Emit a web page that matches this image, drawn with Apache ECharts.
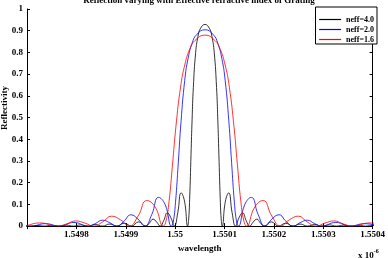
<!DOCTYPE html>
<html>
<head>
<meta charset="utf-8">
<script src="https://cdn.jsdelivr.net/npm/echarts@6.0.0/dist/echarts.min.js"></script>
<style>
  html, body { margin: 0; padding: 0; background: #fff; }
  #chart { width: 388px; height: 258px; }
</style>
</head>
<body>
<div id="chart"></div>
<script>
// wavelength in units of 1e-6 m, reflectivity 0..1
const wlNeff40 = [
  1.5496908, 1.5497056, 1.5497204, 1.549735, 1.5497498, 1.5497644, 1.5497792, 1.549794,
  1.5498086, 1.5498234, 1.549838, 1.5498528, 1.5498676, 1.5498822, 1.5498968, 1.5499116,
  1.5499262, 1.5499408, 1.549948, 1.5499554, 1.5499626, 1.5499698, 1.549977, 1.5499842,
  1.5499914, 1.5499984, 1.5500054, 1.5500122, 1.550019, 1.5500254, 1.5500275, 1.5500294,
  1.5500322, 1.5500344, 1.5500369, 1.5500416, 1.5500463, 1.550051, 1.5500604,
  1.5500698, 1.5500745, 1.5500792, 1.5500839, 1.5500864, 1.5500886, 1.5500914, 1.5500933,
  1.5500954, 1.5501018, 1.5501086, 1.5501154, 1.5501224, 1.5501294, 1.5501366, 1.5501438,
  1.550151, 1.5501582, 1.5501654, 1.5501728, 1.55018, 1.5501946, 1.5502092, 1.550224,
  1.5502386, 1.5502532, 1.550268, 1.5502828, 1.5502974, 1.5503122, 1.5503268, 1.5503416,
  1.5503564, 1.550371, 1.5503858, 1.5504004, 1.5504152
];
const rNeff40 = [
  0.0026, 0, 0.0031, 0, 0.0037, 0, 0.0045, 0,
  0.0056, 0, 0.0072, 0, 0.0095, 0, 0.0132, 0,
  0.0196, 0, 0.0142, 0.032, 0.0188, 0, 0.0261, 0.061,
  0.0385, 0, 0.062, 0.153, 0.1148, 0, 0.033, 0.124,
  0.331, 0.493, 0.639, 0.80, 0.874, 0.909, 0.929,
  0.909, 0.874, 0.80, 0.639, 0.493, 0.331, 0.124, 0.033,
  0, 0.1148, 0.153, 0.062, 0, 0.0385, 0.061, 0.0261,
  0, 0.0188, 0.032, 0.0142, 0, 0.0196, 0, 0.0132,
  0, 0.0095, 0, 0.0072, 0, 0.0056, 0, 0.0045,
  0, 0.0037, 0, 0.0031, 0
];

const wlNeff20 = [
  1.549679, 1.5497082, 1.5497372, 1.5497662, 1.5497952, 1.5498242, 1.5498386, 1.549853,
  1.5498674, 1.5498818, 1.5498962, 1.5499104, 1.5499246, 1.5499386, 1.5499526, 1.5499664,
  1.5499798, 1.5499926, 1.5499962, 1.5500008, 1.5500064, 1.550012, 1.5500194, 1.5500262,
  1.5500344, 1.5500433, 1.5500604,
  1.5500775, 1.5500864, 1.5500946, 1.5501014, 1.5501088, 1.5501144, 1.55012, 1.5501246,
  1.5501282, 1.550141, 1.5501544, 1.5501682, 1.5501822, 1.5501962, 1.5502104, 1.5502246,
  1.550239, 1.5502534, 1.5502678, 1.5502822, 1.5502966, 1.5503256, 1.5503546, 1.5503836,
  1.5504126
];
const rNeff20 = [
  0.0081, 0, 0.0112, 0, 0.0167, 0, 0.012, 0.0272,
  0.016, 0, 0.0222, 0.052, 0.0328, 0, 0.053, 0.1323,
  0.0989, 0, 0.019, 0.110, 0.292, 0.483, 0.670, 0.772,
  0.842, 0.881, 0.9044,
  0.881, 0.842, 0.772, 0.670, 0.483, 0.292, 0.110, 0.019,
  0, 0.0989, 0.1323, 0.053, 0, 0.0328, 0.052, 0.0222,
  0, 0.016, 0.0272, 0.012, 0, 0.0167, 0, 0.0112,
  0
];

const wlNeff16 = [
  1.5496522, 1.549689, 1.5497258, 1.5497624, 1.5497806, 1.5497988, 1.5498172, 1.5498352,
  1.5498534, 1.5498714, 1.5498894, 1.5499072, 1.549925, 1.5499426, 1.5499596, 1.5499762,
  1.5499816, 1.5499876, 1.5499946, 1.5500016, 1.550011, 1.55002, 1.5500298, 1.5500402,
  1.5500604,
  1.5500806, 1.550091, 1.5501008, 1.5501098, 1.5501192, 1.5501262, 1.5501332, 1.5501392,
  1.5501446, 1.5501612, 1.5501782, 1.5501958, 1.5502136, 1.5502314, 1.5502494, 1.5502674,
  1.5502856, 1.5503036, 1.550322, 1.5503402, 1.5503584, 1.550395, 1.5504318
];
const rNeff16 = [
  0.0098, 0, 0.0146, 0, 0.0105, 0.0239, 0.014, 0,
  0.0194, 0.0458, 0.0287, 0, 0.0466, 0.1176, 0.0875, 0,
  0.024, 0.112, 0.281, 0.458, 0.640, 0.747, 0.816, 0.855,
  0.8797,
  0.855, 0.816, 0.747, 0.640, 0.458, 0.281, 0.112, 0.024,
  0, 0.0875, 0.1176, 0.0466, 0, 0.0287, 0.0458, 0.0194,
  0, 0.014, 0.0239, 0.0105, 0, 0.0146, 0
];

const seriesNames = ["neff=4.0", "neff=2.0", "neff=1.6"];
const seriesColors = ["#000000", "#0000ff", "#ff0000"];

const fontFamily = '"Liberation Serif", "Times New Roman", serif';
const axisColor = "#000";

function pairs(xs, ys) {
  return xs.map((x, i) => [x, ys[i]]);
}

function lineSeries(name, color, data) {
  return {
    name: name,
    type: "line",
    data: data,
    smooth: true,
    symbol: "circle",
    symbolSize: 0,
    showSymbol: false,
    lineStyle: { color: color, width: 0.8 },
    itemStyle: { color: color },
    animation: false
  };
}

function baseXAxis(position, showLabel) {
  return {
    type: "value",
    position: position,
    min: 1.5497,
    max: 1.5504,
    interval: 0.0001,
    axisLine: { show: true, lineStyle: { color: axisColor, width: 1 } },
    axisTick: { show: true, inside: true, length: 3, lineStyle: { color: axisColor } },
    splitLine: { show: false },
    axisLabel: {
      show: showLabel,
      showMinLabel: false,
      margin: 4,
      color: "#000",
      fontFamily: fontFamily,
      fontWeight: "bold",
      fontSize: 9,
      formatter: (v) => String(parseFloat(v.toFixed(4)))
    }
  };
}

function baseYAxis(position, showLabel) {
  return {
    type: "value",
    position: position,
    min: 0,
    max: 1,
    interval: 0.1,
    axisLine: { show: true, lineStyle: { color: axisColor, width: 1 } },
    axisTick: { show: true, inside: true, length: 3, lineStyle: { color: axisColor } },
    splitLine: { show: false },
    axisLabel: {
      show: showLabel,
      margin: 4,
      color: "#000",
      fontFamily: fontFamily,
      fontWeight: "bold",
      fontSize: 9,
      formatter: (v) => String(parseFloat(v.toFixed(1)))
    }
  };
}

const chart = echarts.init(document.getElementById("chart"), null, { renderer: "canvas" });

const xBottom = baseXAxis("bottom", true);
xBottom.name = "wavelength";
xBottom.nameLocation = "middle";
xBottom.nameGap = 13;
xBottom.nameTextStyle = { color: "#000", fontFamily: fontFamily, fontWeight: "bold", fontSize: 9 };

chart.setOption({
  backgroundColor: "#fff",
  animation: false,
  grid: { left: 27, right: 11, top: 9, bottom: 24, containLabel: false },
  legend: {
    data: seriesNames,
    orient: "vertical",
    right: 11,
    top: 7,
    align: "left",
    backgroundColor: "#fff",
    borderColor: "#000",
    borderWidth: 1,
    borderRadius: 0,
    padding: [8, 3, 0, 3],
    itemWidth: 22,
    itemHeight: 1,
    itemGap: 1,
    lineStyle: { color: "inherit", width: 1.2 },
    textStyle: { color: "#000", fontFamily: fontFamily, fontWeight: "bold", fontSize: 8, lineHeight: 9 }
  },
  xAxis: [xBottom, baseXAxis("top", false)],
  yAxis: [baseYAxis("left", true), baseYAxis("right", false)],
  series: [
    lineSeries(seriesNames[0], seriesColors[0], pairs(wlNeff40, rNeff40)),
    lineSeries(seriesNames[1], seriesColors[1], pairs(wlNeff20, rNeff20)),
    lineSeries(seriesNames[2], seriesColors[2], pairs(wlNeff16, rNeff16))
  ],
  graphic: [
    {
      type: "text",
      style: {
        text: "Reflection varying with Effective refractive index of Grating",
        x: 199, y: 0.5, align: "center", verticalAlign: "middle",
        font: 'bold 9px "Liberation Serif", serif', fill: "#000"
      }
    },
    {
      type: "text",
      rotation: Math.PI / 2,
      x: 5, y: 108,
      style: {
        text: "Reflectivity",
        align: "center", verticalAlign: "middle",
        font: 'bold 9px "Liberation Serif", serif', fill: "#000"
      }
    },
    {
      type: "text",
      style: {
        text: "{b|x 10}{s|-6}",
        x: 358, y: 254, verticalAlign: "middle",
        rich: {
          b: { font: 'bold 9px "Liberation Serif", serif', fill: "#000", padding: [3, 0, 0, 0] },
          s: { font: 'bold 6px "Liberation Serif", serif', fill: "#000", padding: [0, 0, 5, 0] }
        }
      }
    }
  ]
});
</script>
</body>
</html>
